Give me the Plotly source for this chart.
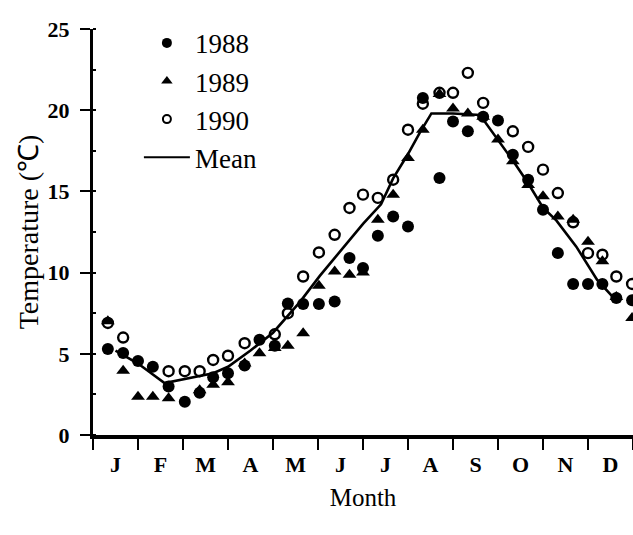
import plotly.graph_objects as go

# ---- data (month position: 0 = start of Jan, 12 = end of Dec) ----
sample_month = [0.33, 0.67, 1.0, 1.33, 1.68, 2.04, 2.37, 2.67, 3.0, 3.37, 3.70, 4.04,
                4.33, 4.67, 5.02, 5.37, 5.70, 6.0, 6.33, 6.67, 7.0, 7.33, 7.70, 8.0,
                8.33, 8.67, 9.0, 9.33, 9.67, 10.0, 10.33, 10.67, 11.0, 11.32, 11.63, 11.98]

temp_1988 = [5.3, 5.05, 4.55, 4.2, 2.98, 2.05, 2.6, 3.55, 3.8, 4.28, 5.86, 5.5,
             8.1, 8.06, 8.06, 8.22, 10.9, 10.28, 12.27, 13.46, 12.84, 20.75, 15.83, 19.3,
             18.7, 19.6, 19.36, 17.26, 15.72, 13.87, 11.2, 9.3, 9.3, 9.3, 8.43, 8.3]

temp_1989 = [7.0, 3.95, 2.36, 2.36, 2.27, None, 2.75, 3.1, 3.25, 4.4, 5.04, 5.35,
             5.5, 6.27, 9.19, 10.07, 9.86, 10.0, 13.26, 14.8, 17.06, 18.8, 21.0, 20.1,
             19.8, 19.6, 18.19, 16.85, 15.4, 14.7, 13.46, 13.26, 11.9, 10.7, 8.5, 7.2]

temp_1990 = [6.9, 6.0, None, None, 3.93, 3.93, 3.93, 4.62, 4.88, 5.65, None, 6.2,
             7.5, 9.76, 11.24, 12.33, 13.98, 14.8, 14.6, 15.72, 18.8, 20.4, 21.07, 21.07,
             22.3, 20.45, None, 18.7, 17.74, 16.34, 14.9, 13.1, 11.2, 11.1, 9.76, 9.3]

mean_month = [0.5, 1.0, 1.59, 2.0, 2.67, 3.0, 3.5, 4.0, 4.6, 5.04, 5.5, 6.0, 6.4,
              6.67, 7.0, 7.26, 7.52, 8.0, 8.6, 9.0, 9.33, 9.67, 10.0, 10.3, 10.74,
              11.2, 11.45, 11.55]
mean_temp = [5.2, 4.4, 3.2, 3.42, 3.8, 4.2, 5.2, 6.3, 8.2, 9.8, 11.3, 13.0, 14.2,
             15.8, 17.3, 18.6, 19.8, 19.8, 19.7, 18.2, 16.9, 15.5, 14.0, 13.2, 11.6,
             9.56, 8.84, 8.5]

month_labels = ["J", "F", "M", "A", "M", "J", "J", "A", "S", "O", "N", "D"]
month_mid = [i + 0.5 for i in range(12)]
month_edges = list(range(13))
y_ticks = [0, 5, 10, 15, 20, 25]

SERIF = "Liberation Serif, Times New Roman, serif"
INK = "black"

fig = go.Figure()

# data traces
fig.add_trace(go.Scatter(x=mean_month, y=mean_temp, mode="lines",
                         line=dict(color=INK, width=2.6), showlegend=False,
                         hoverinfo="skip"))
fig.add_trace(go.Scatter(x=sample_month, y=temp_1990, mode="markers",
                         marker=dict(symbol="circle-open", size=10, color=INK,
                                     line=dict(width=2.4, color=INK)),
                         showlegend=False))
fig.add_trace(go.Scatter(x=sample_month, y=temp_1988, mode="markers",
                         marker=dict(symbol="circle", size=12, color=INK),
                         showlegend=False))
fig.add_trace(go.Scatter(x=sample_month, y=temp_1989, mode="markers",
                         marker=dict(symbol="triangle-up", size=12, color=INK),
                         showlegend=False))

# legend entries
leg = [("1988", dict(mode="markers", marker=dict(symbol="circle", size=10, color=INK))),
       ("1989", dict(mode="markers", marker=dict(symbol="triangle-up", size=10, color=INK))),
       ("1990", dict(mode="markers", marker=dict(symbol="circle-open", size=8, color=INK,
                                                  line=dict(width=2, color=INK)))),
       ("Mean", dict(mode="lines", line=dict(color=INK, width=2)))]
for name, kw in leg:
    fig.add_trace(go.Scatter(x=[None], y=[None], name=name, legendgroup=name, **kw))

# invisible trace to host the month-label axis
fig.add_trace(go.Scatter(x=[None], y=[None], xaxis="x2", showlegend=False,
                         hoverinfo="skip"))

fig.update_layout(
    width=633, height=535,
    margin=dict(l=93, r=0, t=29, b=100),
    paper_bgcolor="white", plot_bgcolor="white",
    font=dict(family=SERIF, color=INK),
    showlegend=True,
    legend=dict(x=0.085, y=1.025, xanchor="left", yanchor="top",
                font=dict(family=SERIF, size=27, color=INK),
                bgcolor="rgba(0,0,0,0)", tracegroupgap=0,
                traceorder="grouped", itemwidth=46),
    xaxis=dict(range=[0, 12], tickvals=month_edges, showticklabels=False,
               ticks="outside", ticklen=11, tickwidth=2, tickcolor=INK,
               showline=True, linewidth=3.5, linecolor=INK, mirror=False,
               showgrid=False, zeroline=False, fixedrange=True, automargin=False),
    xaxis2=dict(range=[0, 12], overlaying="x", side="bottom", anchor="y",
                tickvals=month_mid, ticktext=month_labels, ticks="",
                tickfont=dict(family=SERIF, size=22, color=INK, weight="bold"),
                ticklabelstandoff=14, automargin=False,
                showline=False, showgrid=False, zeroline=False,
                title=dict(text="Month", font=dict(family=SERIF, size=25, color=INK),
                           standoff=12)),
    yaxis=dict(range=[0, 25], tickvals=y_ticks, ticks="outside", ticklen=10,
               tickwidth=2, tickcolor=INK, automargin=False,
               tickfont=dict(family=SERIF, size=22, color=INK, weight="bold"),
               ticklabelstandoff=6,
               showline=True, linewidth=3, linecolor=INK, showgrid=False,
               zeroline=False,
               minor=dict(dtick=2.5, ticks="inside", ticklen=3, tickcolor=INK),
               title=dict(text="Temperature (℃)",
                          font=dict(family=SERIF, size=28, color=INK),
                          standoff=1)),
)

fig.write_html("out.html", config={"displayModeBar": False},
               post_script="document.body.style.margin='0';")
